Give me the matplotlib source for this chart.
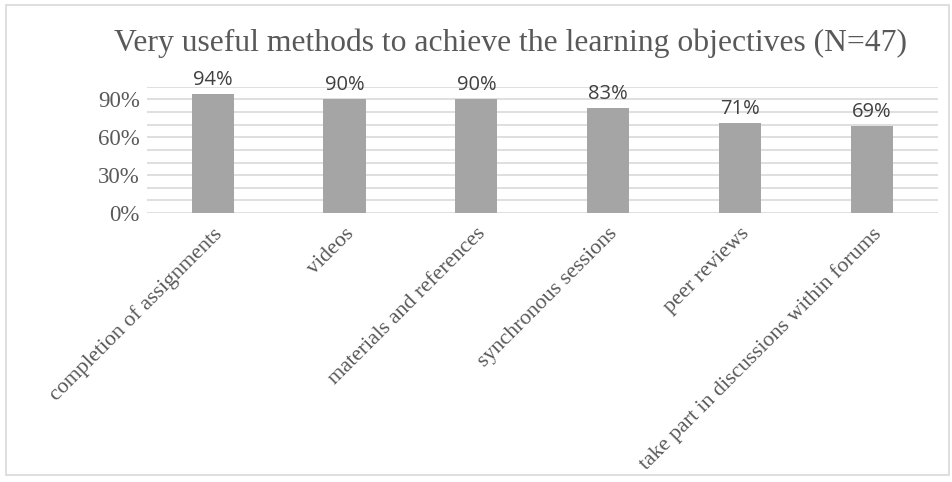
import matplotlib.pyplot as plt
from matplotlib.patches import Rectangle

# data
methods = ['completion of assignments', 'videos', 'materials and references',
           'synchronous sessions', 'peer reviews',
           'take part in discussions within forums']
share = [0.94, 0.90, 0.90, 0.83, 0.71, 0.69]
y_ticks = [0.0, 0.3, 0.6, 0.9]
y_tick_labels = ['0%', '30%', '60%', '90%']

txt = '#595959'
serif = ['Liberation Serif', 'DejaVu Serif']

fig = plt.figure(figsize=(9.53, 4.82), dpi=100)
ax = fig.add_axes([0.154, 0.558, 0.830, 0.262])

x = range(len(methods))
ax.bar(x, share, width=0.32, color='#A5A5A5', zorder=3)

# value labels
for i, v in enumerate(share):
    ax.annotate(f'{round(v * 100)}%', (i, v), xytext=(0, 3), textcoords='offset points',
                ha='center', va='bottom', fontsize=14.5, color='#404040',
                family=['Open Sans', 'DejaVu Sans'])

ax.set_xlim(-0.5, len(methods) - 0.5)
ax.set_ylim(0, 1.0)
ax.set_yticks([k / 10 for k in range(11)], minor=True)
ax.set_yticks(y_ticks)
ax.set_yticklabels(y_tick_labels, family=serif, fontsize=16.5, color=txt)
ax.grid(axis='y', which='both', color='#D9D9D9', linewidth=1.2, zorder=0)
ax.tick_params(axis='both', which='both', length=0)
ax.tick_params(axis='y', pad=5)
ax.tick_params(axis='x', pad=8)
ax.set_xticks(list(x))
ax.set_xticklabels(methods, rotation=45, ha='right', rotation_mode='anchor',
                   family=serif, fontsize=15.8, color=txt)
for s in ax.spines.values():
    s.set_visible(False)

fig.text(0.536, 0.91, 'Very useful methods to achieve the learning objectives (N=47)',
         ha='center', va='center', fontsize=22.8, color=txt, family=serif)

# chart area frame
fig.patches.append(Rectangle((0.006, 0.014), 0.99, 0.975, transform=fig.transFigure,
                             fill=False, edgecolor='#D9D9D9', linewidth=1.2))

fig.savefig('out.png', dpi=100)
